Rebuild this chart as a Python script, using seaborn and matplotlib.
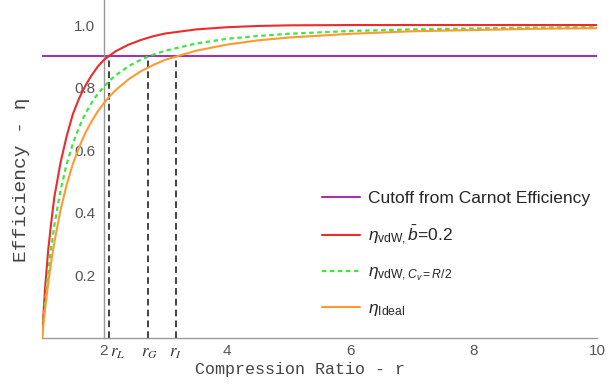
#!/usr/bin/env python3
"""Otto cycle efficiency vs compression ratio: ideal gas vs van der Waals."""

import matplotlib
matplotlib.use("Agg")
import matplotlib.pyplot as plt
from matplotlib.ticker import MultipleLocator, FixedLocator
import matplotlib.transforms as mtransforms
import seaborn as sns

# compression ratio grid
r = [1.0, 1.05, 1.1, 1.15, 1.2, 1.3, 1.4, 1.5, 1.6, 1.7, 1.8, 1.9, 2.0, 2.1,
     2.2, 2.4, 2.6, 2.8, 3.0, 3.5, 4.0, 4.5, 5.0, 6.0, 7.0, 8.0, 9.0, 10.0]

eta_vdw_b = [0.0, 0.16, 0.28, 0.37, 0.45, 0.56, 0.645, 0.715, 0.765, 0.805,
             0.838, 0.866, 0.888, 0.903, 0.917, 0.937, 0.952, 0.964, 0.973,
             0.986, 0.993, 0.997, 0.999, 1.0, 1.0, 1.0, 1.0, 1.0]

eta_vdw_cv = [0.0, 0.114, 0.21, 0.291, 0.36, 0.471, 0.556, 0.621, 0.673, 0.716,
              0.75, 0.779, 0.802, 0.823, 0.84, 0.868, 0.889, 0.905, 0.918,
              0.941, 0.956, 0.965, 0.972, 0.981, 0.986, 0.989, 0.992, 0.993]

eta_ideal = [0.0, 0.093, 0.174, 0.244, 0.306, 0.408, 0.49, 0.556, 0.609, 0.654,
             0.691, 0.723, 0.75, 0.773, 0.793, 0.826, 0.852, 0.872, 0.889,
             0.918, 0.9375, 0.951, 0.96, 0.972, 0.98, 0.984, 0.988, 0.99]

carnot_cutoff = 0.9
r_marks = [2.08, 2.72, 3.17]
r_mark_labels = [r"$r_L$", r"$r_G$", r"$r_I$"]
r_mark_shift = [0.15, 0.03, 0.0]

x_ticks = [2, 4, 6, 8, 10]
y_ticks = [0.2, 0.4, 0.6, 0.8, 1.0]

LABELS = {
    "cutoff": "Cutoff from Carnot Efficiency",
    "vdw_b": r"$\eta_{\mathrm{vdW},}\bar{b}$=0.2",
    "vdw_cv": r"$\eta_{\mathrm{vdW},C_v=R/2}$",
    "ideal": r"$\eta_{\mathrm{Ideal}}$",
}

COLORS = {
    "cutoff": "#9e35aa",
    "vdw_b": "#ee2b2b",
    "vdw_cv": "#3ce83c",
    "ideal": "#ff9a30",
}


def main():
    sns.set_style("white")
    plt.rcParams["font.family"] = ["Liberation Sans", "DejaVu Sans"]
    plt.rcParams["mathtext.fontset"] = "custom"
    plt.rcParams["mathtext.rm"] = "Liberation Sans"
    plt.rcParams["mathtext.it"] = "Liberation Sans:italic"
    plt.rcParams["mathtext.bf"] = "Liberation Sans:bold"

    fig = plt.figure(figsize=(6.12, 3.85), dpi=100)
    ax = fig.add_axes([42 / 612, 47 / 385, 555 / 612, 338 / 385])

    ax.axhline(carnot_cutoff, color=COLORS["cutoff"], lw=1.5,
               label=LABELS["cutoff"], zorder=2)
    sns.lineplot(x=r, y=eta_vdw_b, ax=ax, color=COLORS["vdw_b"], lw=1.5,
                 label=LABELS["vdw_b"], zorder=3)
    sns.lineplot(x=r, y=eta_vdw_cv, ax=ax, color=COLORS["vdw_cv"], lw=1.6,
                 linestyle=(0, (2, 1.6)), label=LABELS["vdw_cv"], zorder=3)
    sns.lineplot(x=r, y=eta_ideal, ax=ax, color=COLORS["ideal"], lw=1.5,
                 label=LABELS["ideal"], zorder=3)

    ax.vlines(r_marks, 0, carnot_cutoff, colors="#222222", lw=1.2,
              linestyles=(0, (4, 2.5)), zorder=1)

    ax.set_xlim(1, 10)
    ax.set_ylim(0, 1.08)

    # Mathematica-style axes crossing at (2, 0)
    for side in ("top", "right"):
        ax.spines[side].set_visible(False)
    ax.spines["left"].set_position(("data", 2))
    ax.spines["bottom"].set_position(("data", 0))
    for side in ("left", "bottom"):
        ax.spines[side].set_color("#9a9a9a")
        ax.spines[side].set_linewidth(1.0)

    ax.xaxis.set_major_locator(FixedLocator(x_ticks))
    ax.xaxis.set_minor_locator(MultipleLocator(0.5))
    ax.yaxis.set_major_locator(FixedLocator(y_ticks))
    ax.yaxis.set_minor_locator(MultipleLocator(0.05))
    ax.set_xticklabels([str(t) for t in x_ticks])
    ax.set_yticklabels([f"{t:.1f}" for t in y_ticks])

    ax.tick_params(axis="x", which="major", direction="in", length=4,
                   width=0.8, color="#9a9a9a", labelsize=11,
                   labelcolor="#555555", pad=4)
    ax.tick_params(axis="x", which="minor", direction="in", length=2.5,
                   width=0.6, color="#9a9a9a")
    ax.tick_params(axis="y", which="major", direction="out", length=4,
                   width=0.8, color="#9a9a9a", labelsize=11,
                   labelcolor="#555555", pad=2)
    ax.tick_params(axis="y", which="minor", direction="out", length=2.5,
                   width=0.6, color="#9a9a9a")

    trans = mtransforms.blended_transform_factory(ax.transData, ax.transAxes)
    for m, lab, dx in zip(r_marks, r_mark_labels, r_mark_shift):
        ax.text(m + dx, -0.045, lab, transform=trans, ha="center", va="center",
                fontsize=12, color="#333333", math_fontfamily="stix")

    ax.set_xlabel("Compression Ratio - r", family="Liberation Mono",
                  fontsize=12, color="#444444")
    ax.xaxis.set_label_coords(0.465, -0.072)
    ax.set_ylabel("Efficiency - η", family="Liberation Mono",
                  fontsize=14, color="#444444")
    ax.yaxis.set_label_coords(-0.022, 0.467)

    handles, labels = ax.get_legend_handles_labels()
    ax.legend(handles, labels, loc="upper left",
              bbox_to_anchor=(322 / 612, 1 - 191 / 385),
              bbox_transform=fig.transFigure, frameon=False, fontsize=12.5,
              handlelength=2.2, handletextpad=0.45, borderpad=0,
              borderaxespad=0, labelspacing=1.0)

    fig.savefig("out.png", dpi=100)


if __name__ == "__main__":
    main()
